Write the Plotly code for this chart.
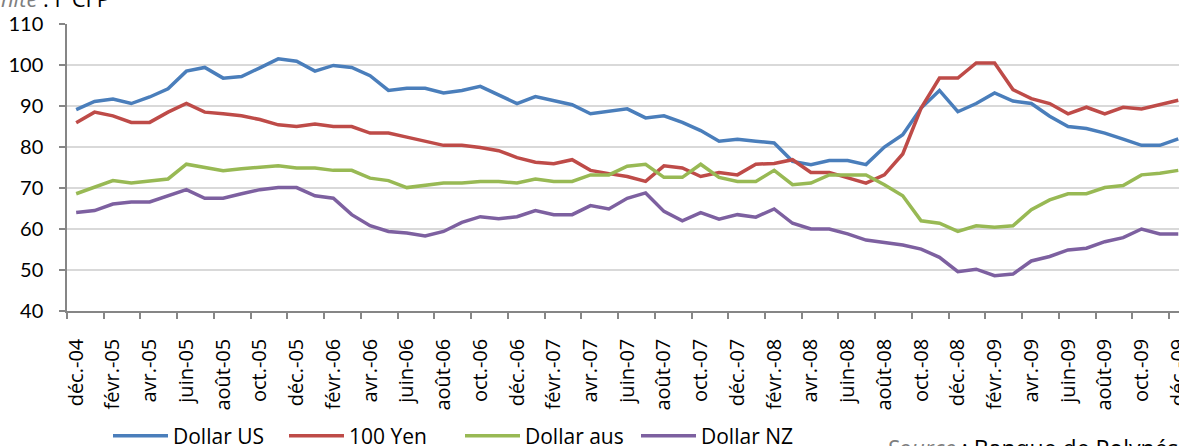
import plotly.graph_objects as go

# ---- data ----
month_abbr = ["janv.", "févr.", "mars", "avr.", "mai", "juin",
              "juil.", "août", "sept.", "oct.", "nov.", "déc."]
categories = ["déc.-04"] + [f"{m}-{y:02d}" for y in range(5, 10) for m in month_abbr]

dollar_us = [89.1, 91.1, 91.7, 90.6, 92.2, 94.2, 98.5, 99.4, 96.8, 97.2, 99.3, 101.5,
             100.9, 98.5, 99.9, 99.4, 97.4, 93.8, 94.3, 94.3, 93.2, 93.8, 94.8, 92.6,
             90.6, 92.3, 91.3, 90.3, 88.1, 88.7, 89.3, 87.1, 87.6, 86.0, 84.0, 81.4,
             81.9, 81.4, 81.0, 76.5, 75.7, 76.7, 76.7, 75.7, 80.0, 83.0, 89.5, 93.8,
             88.6, 90.6, 93.2, 91.2, 90.6, 87.5, 85.0, 84.5, 83.4, 81.9, 80.4, 80.4, 82.0]
yen_100 = [85.9, 88.5, 87.6, 86.0, 86.0, 88.5, 90.6, 88.5, 88.1, 87.6, 86.7, 85.4,
           85.0, 85.6, 85.0, 85.0, 83.4, 83.4, 82.4, 81.4, 80.4, 80.4, 79.9, 79.1,
           77.4, 76.3, 75.9, 76.9, 74.3, 73.5, 72.8, 71.6, 75.4, 74.9, 72.8, 73.8,
           73.2, 75.8, 76.0, 76.9, 73.8, 73.8, 72.6, 71.2, 73.2, 78.3, 89.5, 96.8,
           96.8, 100.5, 100.5, 94.0, 91.8, 90.6, 88.1, 89.7, 88.1, 89.7, 89.3, 90.3, 91.4]
dollar_aus = [68.6, 70.2, 71.8, 71.2, 71.6, 72.2, 75.8, 74.9, 74.2, 74.7, 75.1, 75.4,
              74.9, 74.9, 74.3, 74.3, 72.4, 71.8, 70.1, 70.6, 71.2, 71.2, 71.6, 71.6,
              71.2, 72.2, 71.6, 71.6, 73.2, 73.2, 75.3, 75.8, 72.6, 72.6, 75.8, 72.6,
              71.6, 71.6, 74.3, 70.8, 71.2, 73.2, 73.2, 73.2, 70.8, 68.1, 62.0, 61.4,
              59.4, 60.8, 60.4, 60.8, 64.7, 67.1, 68.6, 68.6, 70.1, 70.6, 73.2, 73.6, 74.3]
dollar_nz = [64.0, 64.5, 66.1, 66.6, 66.6, 68.2, 69.6, 67.5, 67.5, 68.6, 69.6, 70.1,
             70.1, 68.1, 67.5, 63.5, 60.8, 59.4, 59.0, 58.3, 59.4, 61.6, 63.0, 62.5,
             63.0, 64.5, 63.5, 63.5, 65.7, 64.9, 67.5, 68.8, 64.3, 62.0, 64.0, 62.4,
             63.5, 62.9, 64.9, 61.4, 60.0, 60.0, 58.8, 57.3, 56.8, 56.1, 55.1, 53.1,
             49.6, 50.2, 48.6, 49.0, 52.2, 53.3, 54.9, 55.3, 56.9, 57.9, 60.0, 58.8, 58.8]

series_names = ["Dollar US", "100 Yen", "Dollar aus", "Dollar NZ"]
series_values = [dollar_us, yen_100, dollar_aus, dollar_nz]
series_colors = ["#4A7EBB", "#BE4B48", "#98B954", "#7D60A0"]

y_ticks = [40, 50, 60, 70, 80, 90, 100, 110]

# ---- figure ----
W, H = 1179, 446
x_idx = list(range(len(categories)))
label_idx = x_idx[::2]
label_txt = categories[::2]
boundaries = [i - 0.5 for i in x_idx[::2]]

fig = go.Figure()
for name, vals, col in zip(series_names, series_values, series_colors):
    fig.add_trace(go.Scatter(x=x_idx, y=vals, mode="lines", name=name,
                             line=dict(color=col, width=3.5), hoverinfo="skip"))

fig.update_layout(
    width=W, height=H,
    margin=dict(l=67, r=0, t=24, b=135, autoexpand=False),
    paper_bgcolor="white", plot_bgcolor="white",
    font=dict(family="Open Sans", size=18, color="black"),
    showlegend=True,
    legend=dict(orientation="h", xref="container", yref="container",
                x=108 / W, y=1 - 436 / H, xanchor="left", yanchor="middle",
                font=dict(family="Open Sans", size=21, color="black"),
                itemwidth=55, entrywidth=106, tracegroupgap=0,
                bgcolor="rgba(0,0,0,0)"),
)

fig.update_xaxes(
    range=[-0.5, 60.04], showgrid=False, zeroline=False, automargin=False,
    showline=True, linecolor="#868686", linewidth=1.5,
    tickmode="array", tickvals=label_idx, ticktext=label_txt,
    tickangle=-90, ticks="", ticklabelstandoff=18, ticklabeloverflow="allow",
    tickfont=dict(family="Open Sans", size=20, color="black"),
    minor=dict(tickmode="array", tickvals=boundaries, ticks="outside",
               ticklen=6, tickcolor="#868686", tickwidth=1.5, showgrid=False),
)
fig.update_yaxes(
    range=[40, 110], tickmode="array", tickvals=y_ticks, automargin=False,
    showgrid=True, gridcolor="#D9D9D9", gridwidth=1.5, zeroline=False,
    showline=True, linecolor="#868686", linewidth=1.5,
    ticks="outside", ticklen=6, tickcolor="#868686", tickwidth=1.5,
    ticklabelstandoff=12,
    tickfont=dict(family="Lato", size=20, color="black"),
)

fig.add_annotation(xref="paper", yref="paper", x=(112 - 67) / 1112, y=1 + 26 / 287,
                   xanchor="right", yanchor="middle", showarrow=False,
                   text="<i><span style='color:#7F7F7F'>Unité</span></i> : F CFP",
                   font=dict(family="Open Sans", size=22, color="black"))
fig.add_annotation(xref="paper", yref="paper", x=(885 - 67) / 1112, y=-(448 - 311) / 287,
                   xanchor="left", yanchor="middle", showarrow=False,
                   text="<i><span style='color:#7F7F7F'>Source</span></i> : Banque de Polynésie",
                   font=dict(family="Open Sans", size=23, color="black"))

# remove the default 8px body margin so the figure fills the window exactly
fig.write_html("out.html", config={"displayModeBar": False},
               post_script="document.body.style.margin='0';document.body.style.overflow='hidden';")
